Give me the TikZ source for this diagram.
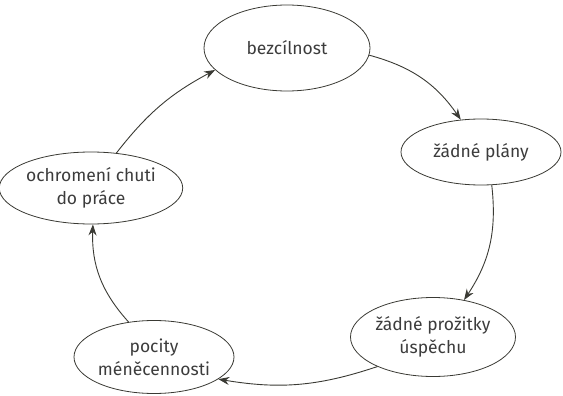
\documentclass[tikz,border=0pt]{standalone}
\usepackage{fontspec}
\setmainfont{Fira Sans}
\usetikzlibrary{shapes.geometric,arrows.meta}
\definecolor{ink}{HTML}{3A3A34}
\definecolor{txt}{HTML}{3C3C3C}
\tikzset{
  bubble/.style={ellipse,draw=ink,line width=0.8pt,inner sep=0pt,fill=white,
    text=txt,align=center,font=\fontsize{17.5}{23}\selectfont},
  link/.style={draw=ink,line width=0.9pt,-{Stealth[length=11pt,width=8pt]}}
}
\begin{document}
\begin{tikzpicture}[x=1pt,y=1pt]
\useasboundingbox (0,0) rectangle (563,-396);
\node[bubble,minimum width=166pt,minimum height=86pt] (a) at (287,-48) {bezcílnost};
\node[bubble,minimum width=160pt,minimum height=66pt] (b) at (481,-152) {žádné plány};
\node[bubble,minimum width=165pt,minimum height=79pt] (c) at (433,-337) {žádné prožitky\\úspěchu};
\node[bubble,minimum width=160pt,minimum height=73pt] (d) at (154,-357) {pocity\\méněcennosti};
\node[bubble,minimum width=178pt,minimum height=72pt] (e) at (91,-188) {ochromení chuti\\do práce};
\draw[link] (a.-5) to[bend left=20] (b.122);
\draw[link] (b.-72) to[bend left=20] (c.50);
\draw[link] (c.208) to[bend left=14] (d.-19);
\draw[link] (d.126) to[bend left=22] (e.-87);
\draw[link] (e.54) to[bend left=12] (a.197);
\end{tikzpicture}
\end{document}
